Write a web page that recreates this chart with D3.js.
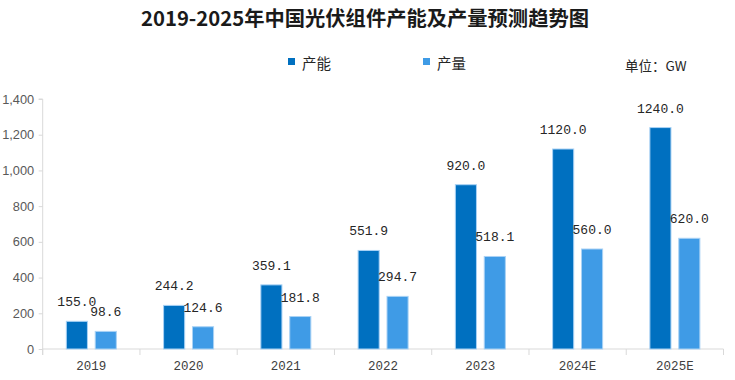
<!DOCTYPE html>
<html><head><meta charset="utf-8">
<script src="https://cdn.jsdelivr.net/npm/d3@7"></script>
<style>html,body{margin:0;padding:0;background:#fff;overflow:hidden}</style>
</head><body>
<svg id="c" width="735" height="380"></svg>
<script>
const categories = ["2019","2020","2021","2022","2023","2024E","2025E"];
const capacity = [155.0,244.2,359.1,551.9,920.0,1120.0,1240.0];
const output = [98.6,124.6,181.8,294.7,518.1,560.0,620.0];
const seriesNames = ["产能","产量"];
const yTicks = [0,200,400,600,800,1000,1200,1400];
const titleText = "2019-2025年中国光伏组件产能及产量预测趋势图";
const unitText = "单位：GW";

const colors = ["#0070C0","#3F9BE6"];
const svg = d3.select("#c");
const L = 42.7, R = 723.5, T = 99, B = 349;
const x = d3.scaleBand().domain(categories).range([L,R]).paddingInner(0).paddingOuter(0);
const y = d3.scaleLinear().domain([0,1400]).range([B,T]);
const inner = d3.scaleBand().domain([0,1]).range([-25,25]).paddingInner(0.27).paddingOuter(0);

svg.append("text").attr("x",365).attr("y",26).attr("text-anchor","middle")
  .attr("font-family","'Noto Sans CJK SC'").attr("font-weight",700).attr("font-size",20.3)
  .attr("fill","#1a1a1a").text(titleText);

// axes
const yAxis = d3.axisLeft(y).tickValues(yTicks).tickSize(4).tickPadding(4.5)
  .tickFormat(d3.format(","));
const gy = svg.append("g").attr("transform",`translate(${L},0)`).call(yAxis);
gy.select(".domain").attr("stroke","#d9d9d9").attr("d",`M-4,${T}H0V${B+6}`);
gy.selectAll(".tick line").attr("stroke","#d9d9d9");
gy.selectAll(".tick text").attr("font-family","'Liberation Sans',Arial").attr("font-size",12.8).attr("fill","#595959");

const xAxis = d3.axisBottom(x).tickSize(0).tickPadding(12);
const gx = svg.append("g").attr("transform",`translate(0,${B})`).call(xAxis);
gx.select(".domain").attr("stroke","#d9d9d9").attr("d",`M${L},0H${R}`);
gx.selectAll(".tick text").attr("font-family","'Liberation Mono',monospace").attr("font-size",12.5).attr("fill","#404040");
// boundary ticks
gx.selectAll("line.bt").data(d3.range(categories.length+1)).enter().append("line").attr("class","bt")
  .attr("x1",i=>L+i*x.step()).attr("x2",i=>L+i*x.step()).attr("y1",0).attr("y2",6).attr("stroke","#d9d9d9");

const series = [capacity, output];
series.forEach((vals,si)=>{
  const g = svg.append("g");
  g.selectAll("rect").data(vals).enter().append("rect")
    .attr("x",(d,i)=>x(categories[i])+x.bandwidth()/2+inner(si))
    .attr("width",inner.bandwidth())
    .attr("y",d=>y(d)).attr("height",d=>B-y(d))
    .attr("fill",colors[si]).attr("stroke","#a9d2f5").attr("stroke-width",1);
  g.selectAll("text").data(vals).enter().append("text")
    .attr("x",(d,i)=>x(categories[i])+x.bandwidth()/2+inner(si)+inner.bandwidth()/2)
    .attr("y",d=>y(d)-15)
    .attr("text-anchor","middle").attr("font-family","'Liberation Mono',monospace").attr("font-size",13)
    .attr("fill","#262626").text(d=>d.toFixed(1));
});

// legend
const legX = [288,423];
seriesNames.forEach((n,i)=>{
  svg.append("rect").attr("x",legX[i]).attr("y",58).attr("width",7).attr("height",7).attr("fill",colors[i]);
  svg.append("text").attr("x",legX[i]+14).attr("y",68.5).attr("font-family","'Noto Sans CJK SC'")
    .attr("font-size",14.5).attr("fill","#262626").text(n);
});
svg.append("text").attr("x",625).attr("y",71).attr("font-family","'Noto Sans CJK SC'")
  .attr("font-size",13.5).attr("fill","#262626").text(unitText);
</script>
</body></html>
